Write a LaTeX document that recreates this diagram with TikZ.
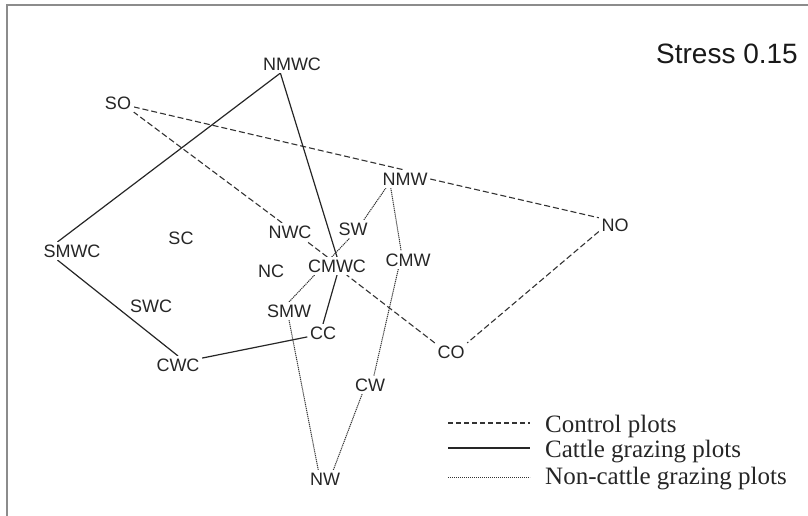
\documentclass[tikz,border=0pt]{standalone}
\usepackage{fontspec}
\setmainfont{Liberation Sans}
\newfontfamily\legendfont{Liberation Serif}
\usetikzlibrary{positioning}
\pgfdeclarelayer{background}
\pgfsetlayers{background,main}

\begin{document}
\begin{tikzpicture}[x=1pt, y=-1pt,
    site/.style={fill=white, inner sep=2.5pt, text=black!85, font=\fontsize{18}{20}\selectfont},
    control/.style={black!80, line width=1.1pt, dash pattern=on 6pt off 3pt},
    cattle/.style={black!85, line width=1.2pt},
    noncattle/.style={black!80, line width=1pt, dash pattern=on 1.2pt off 0.8pt},
    legend/.style={anchor=base west, inner sep=0pt, text=black!85, font={\legendfont\fontsize{25}{28}\selectfont}}]
    \useasboundingbox (0,0) rectangle (808,516);
    \draw[black!45, line width=1.5pt] (7,516) -- (7,5) -- (808,5);

    \node[site] (NMWC) at (292,64) {NMWC};
    \node[site] (SO) at (118,103) {SO};
    \node[site] (NMW) at (405,179) {NMW};
    \node[site] (NO) at (615,225) {NO};
    \node[site] (SMWC) at (72,251) {SMWC};
    \node[site] (SC) at (181,238) {SC};
    \node[site] (NWC) at (290,232) {NWC};
    \node[site] (SW) at (353,229) {SW};
    \node[site] (NC) at (271,271) {NC};
    \node[site] (CMWC) at (337,266) {CMWC};
    \node[site] (CMW) at (408,260) {CMW};
    \node[site] (SWC) at (151,306) {SWC};
    \node[site] (SMW) at (289,311) {SMW};
    \node[site] (CC) at (323,333) {CC};
    \node[site] (CWC) at (178,365) {CWC};
    \node[site] (CO) at (451,352) {CO};
    \node[site] (CW) at (370,385) {CW};
    \node[site] (NW) at (325,479) {NW};

    \node[anchor=east, inner sep=0pt, text=black!90, font=\fontsize{28}{30}\selectfont] (stress) at (798,54) {Stress 0.15};

    \begin{pgfonlayer}{background}
    \path[control]
    (SO.346) edge (NMW.north)
    (NMW.east) edge (NO.156)
    (NO.202) edge (CO.north east)
    (CO.north west) edge (CMWC.317)
    (CMWC.137) edge (NWC.331)
    (NWC.131) edge (SO.south east);
    \path[cattle]
    (NMWC.218) edge (SMWC.148)
    (SMWC.212) edge (CWC.north)
    (CWC.16) edge (CC.194)
    (CC.north) edge (CMWC.south)
    (CMWC.north) edge (NMWC.218);
    \path[noncattle]
    (NMW.212) edge (CMW.127)
    (CMW.223) edge (CW.67)
    (CW.229) edge (NW.47)
    (NW.127) edge (SMW.south)
    (SMW.north) edge (SW.250)
    (SW.40) edge (NMW.205);
    \end{pgfonlayer}

    % legend
    \node[legend] (lgcontrol) at (545,432) {Control plots};
    \node[legend] (lgcattle) at (545,457) {Cattle grazing plots};
    \node[legend] (lgnoncattle) at (545,484) {Non-cattle grazing plots};
    \draw[control, dash pattern=on 5pt off 3pt] (448,423) -- (530,423);
    \draw[cattle] (448,448) -- (530,448);
    \draw[noncattle] (448,477) -- (530,477);
\end{tikzpicture}
\end{document}
